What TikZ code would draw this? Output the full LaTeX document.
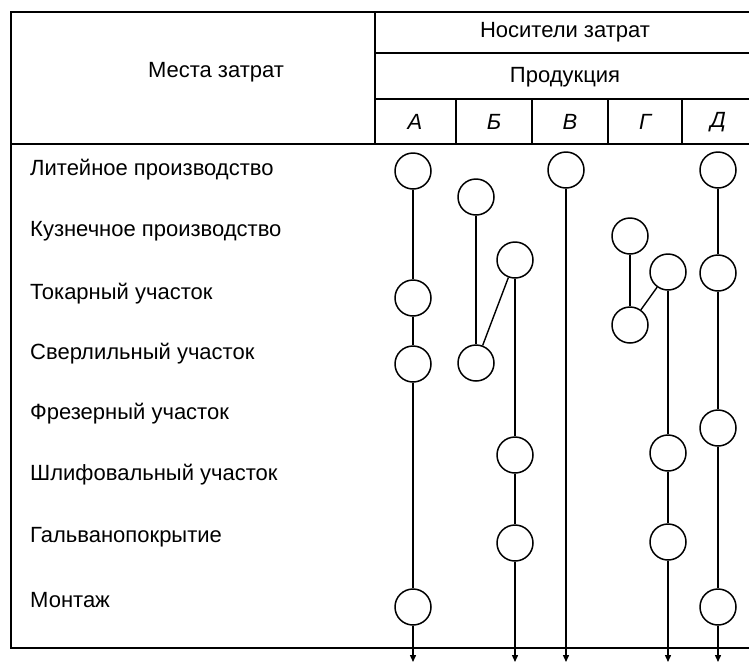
\documentclass[tikz,border=0pt]{standalone}
\usepackage{fontspec}
\setmainfont{Liberation Sans}
\usetikzlibrary{arrows.meta}

\tikzset{
  place/.style={draw,circle,minimum size=36pt,inner sep=0pt,line width=1.5pt},
  flow/.style={line width=1.4pt},
  rowlabel/.style={anchor=west,inner sep=0pt,font=\fontsize{22}{24}\selectfont},
  headlabel/.style={inner sep=0pt,font=\fontsize{22}{24}\selectfont},
  collabel/.style={inner sep=0pt,font=\fontsize{22}{24}\selectfont\itshape}
}

\begin{document}
\begin{tikzpicture}[x=1pt,y=-1pt]
  \useasboundingbox (0,0) rectangle (749,662);
  % frame of the table
  \draw[line width=1.6pt] (749,12) -- (11,12) -- (11,648) -- (749,648);
  \draw[line width=1.6pt] (375,12) -- (375,144);
  \draw[line width=1.6pt] (11,144) -- (749,144);
  \draw[line width=1.4pt] (375,53) -- (749,53);
  \draw[line width=1.4pt] (375,99) -- (749,99);
  \foreach \x in {456,532,608,682}
    \draw[line width=1.4pt] (\x,99) -- (\x,144);

  % header
  \node[headlabel] (places) at (216,72) {Места затрат};
  \node[headlabel] (carriers) at (565,32) {Носители затрат};
  \node[headlabel] (products) at (565,77) {Продукция};
  \foreach \x/\t [count=\i] in {415/А,494/Б,570/В,645/Г,718/Д}
    \node[collabel] (col\i) at (\x,122) {\t};

  % cost centres
  \foreach \y/\t [count=\i] in {170/Литейное производство,231/Кузнечное производство,
      294/Токарный участок,354/Сверлильный участок,414/Фрезерный участок,
      475/Шлифовальный участок,537/Гальванопокрытие,600/Монтаж}
    \node[rowlabel] (row\i) at (30,\y) {\t};

  % product A
  \node[place] (A1) at (413,171) {};
  \node[place] (A2) at (413,298) {};
  \node[place] (A3) at (413,364) {};
  \node[place] (A4) at (413,607) {};
  % product B
  \node[place] (B1) at (476,197) {};
  \node[place] (B2) at (515,260) {};
  \node[place] (B3) at (476,363) {};
  \node[place] (B4) at (515,455) {};
  \node[place] (B5) at (515,543) {};
  % product V
  \node[place] (V1) at (566,170) {};
  % product G
  \node[place] (G1) at (630,236) {};
  \node[place] (G2) at (668,272) {};
  \node[place] (G3) at (630,325) {};
  \node[place] (G4) at (668,453) {};
  \node[place] (G5) at (668,542) {};
  % product D
  \node[place] (D1) at (718,170) {};
  \node[place] (D2) at (718,273) {};
  \node[place] (D3) at (718,428) {};
  \node[place] (D4) at (718,607) {};

  % outputs below the table
  \coordinate (endA) at (413,662);
  \coordinate (endB) at (515,662);
  \coordinate (endV) at (566,662);
  \coordinate (endG) at (668,662);
  \coordinate (endD) at (718,662);

  \draw[flow] (A1) -- (A2);
  \draw[flow] (A2) -- (A3);
  \draw[flow] (A3) -- (A4);
  \draw[flow] (B1) -- (B3);
  \draw[flow] (B3) -- (B2);
  \draw[flow] (B2) -- (B4);
  \draw[flow] (B4) -- (B5);
  \draw[flow] (G1) -- (G3);
  \draw[flow] (G3) -- (G2);
  \draw[flow] (G2) -- (G4);
  \draw[flow] (G4) -- (G5);
  \draw[flow] (D1) -- (D2);
  \draw[flow] (D2) -- (D3);
  \draw[flow] (D3) -- (D4);
  \foreach \a/\b in {A4/endA,B5/endB,V1/endV,G5/endG,D4/endD}
    \draw[flow,-{Triangle[length=7pt,width=6pt]}] (\a) -- (\b);
\end{tikzpicture}
\end{document}
